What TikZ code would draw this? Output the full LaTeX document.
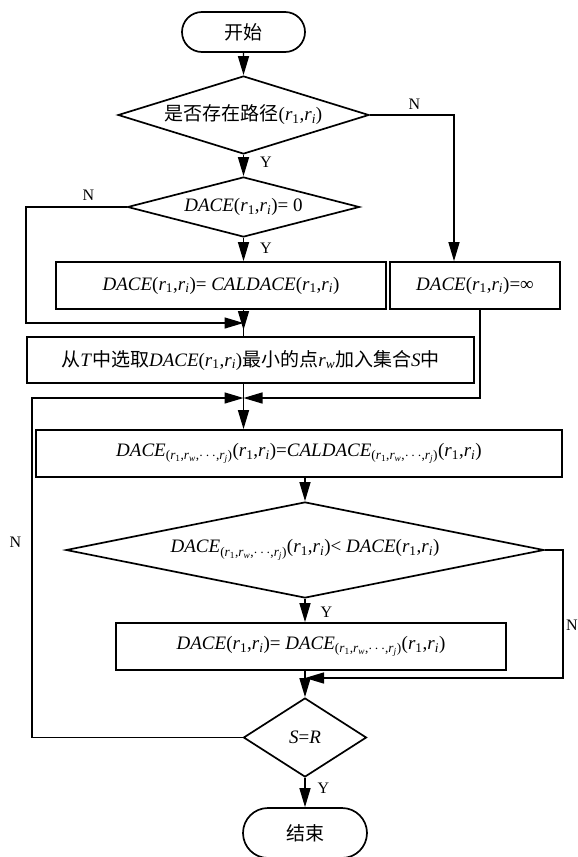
\documentclass[tikz,border=0pt]{standalone}
\usepackage{fontspec}
\setmainfont{Liberation Serif}
\newfontfamily\cjk{Noto Sans CJK SC}
\usetikzlibrary{shapes.geometric, shapes.misc, arrows.meta}
\newcommand{\zh}[1]{{\cjk #1}}
\newcommand{\dace}{\textit{DACE}}
\newcommand{\rpair}{(\textit{r}\textsubscript{1},\textit{r}\textsubscript{\textit{i}})}
\newcommand{\wpath}{\textsubscript{(\textit{r}\textsubscript{1},\textit{r}\textsubscript{\textit{w}},$\cdots$,\textit{r}\textsubscript{\textit{j}})}}
\tikzstyle{startstop} = [rounded rectangle, minimum width=123pt, minimum height=40pt, inner sep=0pt, draw=black, line width=1.7pt, font=\fontsize{19}{22}\selectfont]
\tikzstyle{process} = [rectangle, minimum height=47pt, inner sep=0pt, draw=black, line width=1.7pt, font=\fontsize{19}{22}\selectfont]
\tikzstyle{decision} = [diamond, inner sep=0pt, draw=black, line width=1.7pt, font=\fontsize{19}{22}\selectfont]
\tikzstyle{arrow} = [line width=1.4pt, -{Triangle[length=19pt, width=11pt]}]
\tikzstyle{line} = [line width=1.4pt]
\tikzstyle{yn} = [inner sep=0pt, font=\fontsize{16}{18}\selectfont]
\begin{document}
\begin{tikzpicture}[x=1pt, y=-1pt, node distance=92pt]
      \useasboundingbox (0,0) rectangle (578,857);
      \node (start) [startstop] at (243.5,32) {\zh{开始}};
      \node (d1) [decision, below of=start, yshift=9pt, minimum width=251pt, minimum height=78pt, aspect=3.2] {\zh{是否存在路径}\rpair};
      \node (d2) [decision, below of=d1, minimum width=232pt, minimum height=60pt, aspect=3.87] {\dace\rpair= 0};
      \node (calc) [process, below of=d2, yshift=13.5pt, xshift=-22.5pt, minimum width=330pt] {\dace\rpair= \textit{CALDACE}\rpair};
      \node (inf) [process, right of=calc, xshift=162pt, minimum width=170pt] {\dace\rpair=∞};
      \node (sel) [process, below of=calc, yshift=17.5pt, xshift=29.5pt, minimum width=447pt, minimum height=46pt] {\zh{从}\textit{T}\zh{中选取}\dace\rpair\zh{最小的点}\textit{r}\textsubscript{\textit{w}}\zh{加入集合}\textit{S}\zh{中}};
      \node (upd) [process, below of=sel, yshift=-1.5pt, xshift=48.5pt, minimum width=526pt] {\dace\wpath\rpair=\textit{CALDACE}\wpath\rpair};
      \node (d6) [decision, below of=upd, yshift=-4.5pt, xshift=6pt, minimum width=478pt, minimum height=96pt, aspect=4.98] {\dace\wpath\rpair< \dace\rpair};
      \node (set) [process, below of=d6, yshift=-4.5pt, xshift=6pt, minimum width=390pt] {\dace\rpair= \dace\wpath\rpair};
      \node (d8) [decision, below of=set, yshift=1pt, xshift=-6pt, minimum width=123pt, minimum height=79pt, aspect=1.56] {\textit{S}=\textit{R}};
      \node (stop) [startstop, below of=d8, yshift=-3.5pt, minimum width=124pt, minimum height=50pt] {\zh{结束}};

      \coordinate (m1) at (243.5,323);
      \coordinate (m2) at (243.5,398);
      \coordinate (m3) at (305,678);
      \coordinate (cl) at (32,0);
      \coordinate (cr) at (563,0);

      \draw [arrow] (start) -- (d1);
      \draw [arrow] (d1) -- node [yn, anchor=west, xshift=16pt, pos=0.35] {Y} (d2);
      \draw [arrow] (d1.east) -| node [yn, anchor=south, yshift=5pt, pos=0.265] {N} ([xshift=-21pt]inf.north);
      \draw [arrow] (d2.south) -- node [yn, anchor=west, xshift=16pt, pos=0.44] {Y} (d2.south |- calc.north);
      \draw [arrow] (d2.west) -- node [yn, anchor=south, yshift=6pt, pos=0.38] {N} (d2.west -| sel.west) |- (m1);
      \draw [arrow] (calc.south -| m1) -- ([yshift=-7pt]m1);
      \draw [line] (m1) -- (m1 |- sel.north);
      \draw [arrow] (sel.south -| m2) -- (m2 |- upd.north);
      \draw [arrow] ([xshift=5pt]inf.south) |- (m2);
      \draw [arrow] (d8.west) -- (d8.west -| cl) -- node [yn, anchor=east, xshift=-10pt, pos=0.576] {N} (m2 -| cl) -- (m2);

      \draw [arrow] (upd.south -| d6.north) -- (d6.north);
      \draw [arrow] (d6.south) -- node [yn, anchor=west, xshift=15pt, pos=0.56] {Y} (d6.south |- set.north);
      \draw [arrow] (d6.east) -- (d6.east -| cr) -- node [yn, anchor=west, xshift=2.5pt, pos=0.586] {N} (m3 -| cr) -- (m3);
      \draw [arrow] (set.south -| d8.north) -- (d8.north);
      \draw [arrow] (d8.south) -- node [yn, anchor=west, xshift=12pt, pos=0.35] {Y} (stop.north);
    \end{tikzpicture}
\end{document}
